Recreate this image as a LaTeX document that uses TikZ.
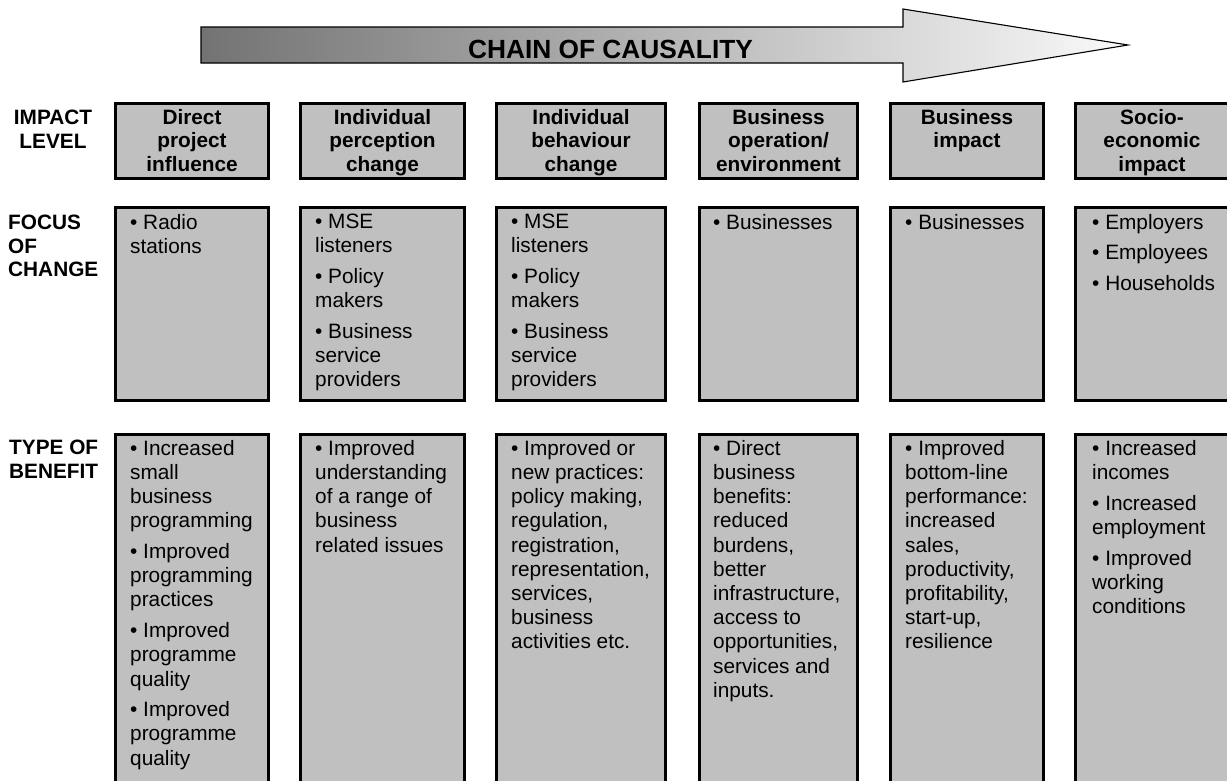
\documentclass[tikz,border=0pt]{standalone}
\usepackage{fontspec}
\setmainfont{Liberation Sans}
\usetikzlibrary{positioning}
\definecolor{boxgray}{HTML}{C0C0C0}

\begin{document}
\begin{tikzpicture}[x=1pt, y=-1pt,
  box/.style={draw, line width=3pt, fill=boxgray, anchor=north west, inner sep=0pt},
  head/.style={anchor=north, align=center, inner sep=0pt, font=\fontsize{20.8}{23.5}\selectfont\bfseries},
  body/.style={align=left, inner sep=0pt, font=\fontsize{20.8}{24.2}\selectfont},
  rowlab/.style={inner sep=0pt, font=\fontsize{20.8}{23.5}\selectfont\bfseries}]
\useasboundingbox (0,0) rectangle (1227,780);
\clip (0,0) rectangle (1227,780);
\draw[line width=1.1pt, left color=black!55, right color=black!2] (201,27) -- (903,27) -- (903,9) -- (1128,45) -- (903,82) -- (903,63) -- (201,63) -- cycle;
\node[anchor=base, inner sep=0pt, font=\fontsize{26.3}{30}\selectfont\bfseries] (chain) at (610.5,58) {CHAIN OF CAUSALITY};
\node[rowlab, align=center, anchor=north] (impact) at (53,110) {IMPACT\\LEVEL};
\node[rowlab, align=left, anchor=north west] (focus) at (8,215) {FOCUS\\OF\\CHANGE};
\node[rowlab, align=left, anchor=north west] (benefit) at (9,440) {TYPE OF\\BENEFIT};
\node[box, minimum width=153pt, minimum height=75pt] (lev1) at (114,102) {};
\node[box, minimum width=164pt, minimum height=75pt] (lev2) at (299,102) {};
\node[box, minimum width=169pt, minimum height=75pt] (lev3) at (495,102) {};
\node[box, minimum width=158pt, minimum height=75pt] (lev4) at (698,102) {};
\node[box, minimum width=153pt, minimum height=75pt] (lev5) at (889,102) {};
\node[box, minimum width=180pt, minimum height=75pt] (lev6) at (1074,102) {};
\node[box, minimum width=153pt, minimum height=193pt] (foc1) at (114,206) {};
\node[box, minimum width=164pt, minimum height=193pt] (foc2) at (299,206) {};
\node[box, minimum width=169pt, minimum height=193pt] (foc3) at (495,206) {};
\node[box, minimum width=158pt, minimum height=193pt] (foc4) at (698,206) {};
\node[box, minimum width=153pt, minimum height=193pt] (foc5) at (889,206) {};
\node[box, minimum width=180pt, minimum height=193pt] (foc6) at (1074,206) {};
\node[box, minimum width=153pt, minimum height=380pt] (ben1) at (114,433) {};
\node[box, minimum width=164pt, minimum height=380pt] (ben2) at (299,433) {};
\node[box, minimum width=169pt, minimum height=380pt] (ben3) at (495,433) {};
\node[box, minimum width=158pt, minimum height=380pt] (ben4) at (698,433) {};
\node[box, minimum width=153pt, minimum height=380pt] (ben5) at (889,433) {};
\node[box, minimum width=180pt, minimum height=380pt] (ben6) at (1074,433) {};
\node[head, below=7pt of lev1.north] (lev1t) {Direct\\project\\influence};
\node[head, below=7pt of lev2.north] (lev2t) {Individual\\perception\\change};
\node[head, below=7pt of lev3.north] (lev3t) {Individual\\behaviour\\change};
\node[head, below=7pt of lev4.north] (lev4t) {Business\\operation/\\environment};
\node[head, below=7pt of lev5.north] (lev5t) {Business\\impact};
\node[head, below=7pt of lev6.north, xshift=-13.5pt] (lev6t) {Socio-\\economic\\impact};
\node[body, below right=8pt and 16pt of foc1.north west] (foc1t) {\textbullet\ Radio\\stations};
\node[body, below right=8pt and 16pt of foc2.north west] (foc2t) {\textbullet\ MSE\\listeners\\[6.5pt]\textbullet\ Policy\\makers\\[6.5pt]\textbullet\ Business\\service\\providers};
\node[body, below right=8pt and 16pt of foc3.north west] (foc3t) {\textbullet\ MSE\\listeners\\[6.5pt]\textbullet\ Policy\\makers\\[6.5pt]\textbullet\ Business\\service\\providers};
\node[body, below right=8pt and 15pt of foc4.north west] (foc4t) {\textbullet\ Businesses};
\node[body, below right=8pt and 16pt of foc5.north west] (foc5t) {\textbullet\ Businesses};
\node[body, below right=8pt and 18pt of foc6.north west] (foc6t) {\textbullet\ Employers\\[6.5pt]\textbullet\ Employees\\[6.5pt]\textbullet\ Households};
\node[body, below right=7pt and 16pt of ben1.north west] (ben1t) {\textbullet\ Increased\\small\\business\\programming\\[6.5pt]\textbullet\ Improved\\programming\\practices\\[6.5pt]\textbullet\ Improved\\programme\\quality\\[6.5pt]\textbullet\ Improved\\programme\\quality};
\node[body, below right=7pt and 16pt of ben2.north west] (ben2t) {\textbullet\ Improved\\understanding\\of a range of\\business\\related issues};
\node[body, below right=7pt and 16pt of ben3.north west] (ben3t) {\textbullet\ Improved or\\new practices:\\policy making,\\regulation,\\registration,\\representation,\\services,\\business\\activities etc.};
\node[body, below right=7pt and 15pt of ben4.north west] (ben4t) {\textbullet\ Direct\\business\\benefits:\\reduced\\burdens,\\better\\infrastructure,\\access to\\opportunities,\\services and\\inputs.};
\node[body, below right=7pt and 16pt of ben5.north west] (ben5t) {\textbullet\ Improved\\bottom-line\\performance:\\increased\\sales,\\productivity,\\profitability,\\start-up,\\resilience};
\node[body, below right=7pt and 18pt of ben6.north west] (ben6t) {\textbullet\ Increased\\incomes\\[6.5pt]\textbullet\ Increased\\employment\\[6.5pt]\textbullet\ Improved\\working\\conditions};
\end{tikzpicture}
\end{document}
